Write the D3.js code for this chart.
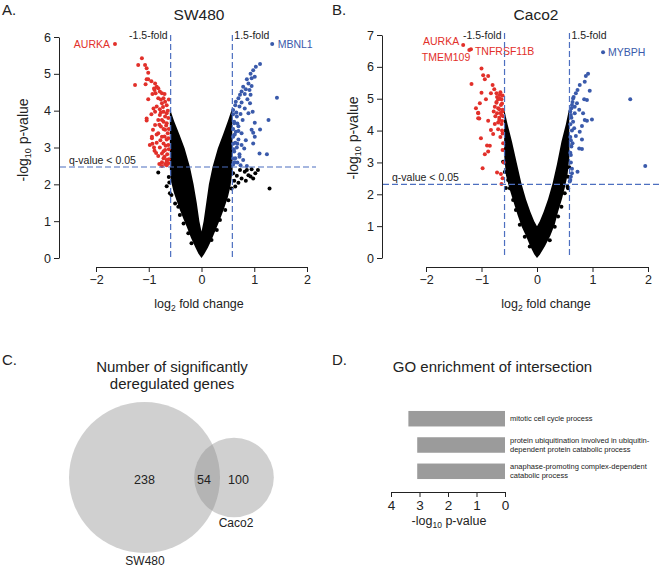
<!DOCTYPE html>
<html>
<head>
<meta charset="utf-8">
<script src="https://cdn.jsdelivr.net/npm/d3@7/dist/d3.min.js"></script>
<style>
  body { margin: 0; background: #fff; }
  svg { display: block; }
</style>
</head>
<body>
<svg id="fig" width="660" height="567"></svg>
<script>
// ---- data ----
// volcano points: [log2 fold change, -log10 p-value]
const swDown = [
  [-1.13,5.42],[-1.20,5.24],[-1.07,5.24],[-1.04,5.15],[-1.01,5.03],[-1.26,4.70],[-1.04,4.85],[-1.01,4.85],
  [-1.06,4.72],[-0.88,4.74],[-0.85,4.65],[-0.82,4.61],[-0.89,4.56],[-0.79,4.52],[-0.75,4.47],[-0.87,4.47],
  [-1.01,4.31],[-0.82,4.34],[-0.72,4.34],[-0.69,4.24],[-0.75,4.20],[-0.66,4.15],[-0.85,4.11],[-0.91,4.06],
  [-0.79,4.04],[-0.72,3.97],[-0.88,3.97],[-0.66,3.93],[-0.79,3.88],[-0.69,3.84],[-1.04,3.73],[-0.82,3.75],
  [-0.72,3.70],[-0.66,3.66],[-0.88,3.61],[-0.77,3.57],[-0.92,3.48],[-0.69,3.48],[-0.82,3.39],[-0.64,3.39],
  [-0.75,3.29],[-0.94,3.25],[-0.66,3.22],[-0.85,3.13],[-0.72,3.11],[-0.63,3.07],[-0.98,3.07],[-0.79,3.00],
  [-0.69,2.93],[-0.89,2.91],[-0.75,2.84],[-0.65,2.82],[-0.82,2.77],[-0.72,2.71],[-0.66,2.66],[-0.75,2.60],
  [-0.69,2.55],[-0.63,2.57],[-0.75,2.50],[-1.04,3.79],[-0.94,3.29],[-0.93,3.10],
  [-0.62,4.30],[-0.64,4.00],[-0.63,3.80],[-0.67,3.60],[-0.62,3.50],[-0.70,3.30],[-0.63,3.25],[-0.68,3.05],
  [-0.62,2.95],[-0.70,2.75],[-0.62,2.68],[-0.66,2.52],[-0.73,4.10],[-0.77,3.95],[-0.75,3.75],[-0.80,3.62],
  [-0.72,3.50],[-0.78,3.20],[-0.85,3.35],[-0.90,3.00],[-0.86,2.85],[-0.80,2.55],[-0.70,4.45],[-0.77,4.30],
  [-0.90,4.60],[-0.95,4.80],[-0.93,4.45],[-0.66,2.62],[-0.72,2.90],[-0.95,3.90]
];
const swUp = [
  [1.11,5.27],[1.03,5.19],[0.98,5.10],[0.93,5.00],[1.01,4.92],[0.86,4.85],[0.95,4.88],[0.89,4.74],
  [0.95,4.67],[0.79,4.65],[0.84,4.58],[0.76,4.52],[0.91,4.56],[0.73,4.43],[0.82,4.45],[0.93,4.43],
  [1.43,4.35],[0.70,4.34],[0.87,4.31],[0.65,4.24],[0.76,4.22],[0.92,4.20],[0.64,4.15],[0.72,4.11],
  [0.82,4.06],[0.97,3.97],[0.89,3.93],[0.60,4.02],[0.74,3.91],[0.67,3.84],[0.78,3.75],[1.27,3.75],
  [1.01,3.67],[0.62,3.66],[0.70,3.58],[1.11,3.49],[0.95,3.48],[0.98,3.40],[0.65,3.43],[0.76,3.39],
  [0.60,3.29],[1.01,3.29],[0.70,3.22],[0.84,3.20],[0.98,3.11],[0.64,3.13],[0.76,3.07],[0.67,3.00],
  [0.81,2.97],[1.10,2.84],[1.24,2.82],[0.62,2.89],[0.72,2.82],[0.64,2.71],[0.79,2.66],[0.68,2.59],
  [0.60,2.54],[0.74,2.52],[0.86,2.50],
  [0.60,3.90],[0.62,3.70],[0.60,3.50],[0.63,3.35],[0.60,3.10],[0.61,2.95],[0.60,2.70],[0.63,2.60],
  [0.66,3.95],[0.68,3.65],[0.70,3.45],[0.68,3.10],[0.72,2.75]
];
const swOther = [
  [0.73,2.39],[0.82,2.34],[0.95,2.41],[0.89,2.25],[0.98,2.16],[0.76,2.16],[0.67,2.23],[0.84,2.10],
  [0.70,2.04],[0.93,2.21],[1.29,1.89],[0.64,1.94],[1.07,2.39],[1.02,2.30],[0.86,2.39],
  [-0.82,2.32],[-0.66,1.95],[-0.60,1.76],[-0.57,1.71],[-0.50,1.48],[-0.44,1.39],[-0.41,1.17],
  [-0.34,0.94],[-0.25,0.67],[-0.19,0.40],[-0.62,2.20],[-0.61,2.05],
  [0.57,1.89],[0.51,1.57],[0.45,1.30],[0.35,1.03],[0.29,0.76],[0.19,0.49],[0.62,2.10],[0.60,2.30]
];
// outline of the dense black cloud
const swCloud = [
  [0,0],[-0.06,0.12],[-0.12,0.3],[-0.2,0.55],[-0.28,0.85],[-0.34,1.05],[-0.41,1.3],[-0.47,1.55],
  [-0.53,1.8],[-0.58,2.1],[-0.6,2.4],[-0.6,4.06],
  [-0.52,3.72],[-0.42,3.36],[-0.32,2.98],[-0.22,2.48],[-0.15,2.0],[-0.09,1.5],[-0.04,1.0],[0,0.72],
  [0.04,1.0],[0.09,1.5],[0.14,2.0],[0.21,2.48],[0.31,2.98],[0.41,3.36],[0.5,3.72],[0.58,4.06],
  [0.59,2.4],[0.55,1.95],[0.5,1.65],[0.43,1.35],[0.36,1.08],[0.28,0.8],[0.2,0.52],[0.12,0.28],[0.05,0.1]
];
const swGenes = [
  { gene: "AURKA", fc: -1.64, p: 5.81, dir: "down" },
  { gene: "MBNL1", fc: 1.34, p: 5.81, dir: "up" }
];

const cacoDown = [
  [-1.00,5.95],[-0.97,5.74],[-0.88,5.71],[-0.94,5.61],[-1.18,5.46],[-0.80,5.43],[-0.77,5.30],[-0.73,5.17],
  [-1.00,5.19],[-0.83,5.17],[-0.67,5.12],[-0.92,4.98],[-0.70,4.98],[-0.64,4.98],[-1.03,4.86],[-0.73,4.87],
  [-0.65,4.80],[-0.76,4.75],[-0.68,4.67],[-0.62,4.65],[-1.06,4.56],[-0.72,4.54],[-0.64,4.49],[-1.04,4.38],
  [-0.88,4.31],[-0.68,4.33],[-0.76,4.21],[-0.64,4.21],[-0.83,4.02],[-0.70,4.04],[-0.62,3.91],[-0.79,3.89],
  [-1.01,3.76],[-0.85,3.52],[-0.88,3.34],[-0.94,3.26],[-0.62,3.39],[-0.98,2.82],[-0.65,2.64],[-0.72,2.68],
  [-0.64,2.32],[-1.10,4.70],[-1.06,4.54],[-1.06,4.39],[-0.90,3.53],
  [-0.62,4.60],[-0.66,4.55],[-0.70,4.70],[-0.63,4.85],[-0.67,5.00],[-0.72,5.05],[-0.68,4.40],[-0.63,4.30],
  [-0.70,4.25],[-0.75,4.45],[-0.78,4.60],[-0.66,5.20],[-0.62,5.10],[-0.73,4.90],[-0.61,4.45],[-0.63,4.00],
  [-0.66,3.80],[-0.61,3.60],[-0.60,3.00],[-0.62,2.50]
];
const cacoUp = [
  [0.92,5.78],[0.88,5.71],[0.77,5.43],[0.86,5.53],[0.95,5.25],[0.73,5.27],[0.70,5.17],[0.85,4.98],
  [0.90,4.96],[1.68,4.98],[0.65,5.01],[0.72,4.86],[0.63,4.80],[0.76,4.65],[0.68,4.54],[0.61,4.49],
  [0.86,4.33],[0.99,4.35],[0.90,4.31],[0.65,4.28],[0.81,4.14],[0.67,4.07],[0.77,3.96],[0.70,3.83],
  [0.61,3.70],[0.81,3.72],[0.64,3.60],[0.76,3.44],[0.81,3.42],[0.61,3.23],[0.73,2.71],[1.95,2.89],
  [0.63,2.66],[0.61,2.55],[0.83,4.54],[0.59,2.40],
  [0.60,4.60],[0.62,4.70],[0.64,4.90],[0.66,5.05],[0.68,4.75],[0.62,4.40],[0.60,4.20],[0.63,4.00],
  [0.60,3.80],[0.62,3.50],[0.60,3.30],[0.61,3.00],[0.63,2.80],[0.60,2.45]
];
const cacoOther = [
  [-0.52,2.45],[-0.49,2.19],[-0.43,1.82],[-0.38,1.51],[-0.31,1.04],[-0.22,0.67],[-0.13,0.36],
  [-0.58,3.39],[-0.61,3.02],[-0.58,2.70],[-0.56,2.20],
  [0.50,2.03],[0.55,2.24],[0.44,1.61],[0.38,1.30],[0.32,0.98],[0.23,0.56],[0.56,2.55],[0.56,2.19],
  [0.58,2.85],[0.57,3.55]
];
const cacoCloud = [
  [0,0],[-0.05,0.12],[-0.12,0.36],[-0.2,0.7],[-0.28,1.0],[-0.35,1.35],[-0.43,1.8],[-0.5,2.2],
  [-0.56,2.6],[-0.59,3.2],[-0.595,4.7],
  [-0.53,4.2],[-0.45,3.65],[-0.36,2.95],[-0.28,2.34],[-0.2,1.85],[-0.12,1.45],[-0.05,1.15],[0,1.0],
  [0.05,1.15],[0.12,1.45],[0.2,1.85],[0.28,2.34],[0.36,2.95],[0.44,3.65],[0.52,4.2],[0.58,4.7],
  [0.585,3.2],[0.55,2.6],[0.5,2.2],[0.45,1.85],[0.38,1.45],[0.32,1.05],[0.24,0.7],[0.14,0.36],[0.05,0.1]
];
const cacoGenes = [
  { gene: "AURKA", fc: -1.33, p: 6.69, dir: "down" },
  { gene: "TNFRSF11B", fc: -1.19, p: 6.55, dir: "down" },
  { gene: "TMEM109", fc: -1.22, p: 6.53, dir: "down" },
  { gene: "MYBPH", fc: 1.19, p: 6.46, dir: "up" }
];

const foldCut = Math.log2(1.5);
const swQcut = 2.47;
const cacoQcut = 2.31;

const xTicks = [-2, -1, 0, 1, 2];

// Venn
const vennSets = ["SW480", "Caco2"];
const vennOnly = [238, 100];
const vennShared = 54;

// GO enrichment
const goTerms = [
  ["mitotic cell cycle process"],
  ["protein ubiquitination involved in ubiquitin-", "dependent protein catabolic process"],
  ["anaphase-promoting complex-dependent", "catabolic process"]
];
const goValues = [3.39, 3.08, 3.08];
const goTicks = [4, 3, 2, 1, 0];

// ---- drawing ----
const FONT = '"Liberation Sans", Arial, Helvetica, sans-serif';
const INK = "#222";
const RED = "#e2302a";
const BLUE = "#3a5aab";
const DASH = "#4d6fc0";
const intFmt = d3.format("d");

const svg = d3.select("#fig").style("font-family", FONT);
svg.append("rect").attr("width", 660).attr("height", 567).attr("fill", "#fff");

function txt(g, x, y, s, size, anchor) {
  return g.append("text").attr("x", x).attr("y", y).attr("font-size", size)
    .attr("fill", INK).attr("text-anchor", anchor || "start").text(s);
}

function volcano(cfg) {
  const g = svg.append("g");
  const x = d3.scaleLinear().domain([-2, 2]).range(cfg.xRange);
  const y = d3.scaleLinear().domain([0, cfg.yMax]).range([258, cfg.yTop]);

  // dense cloud
  g.append("path").datum(cfg.cloud)
    .attr("d", d3.line().x(d => x(d[0])).y(d => y(d[1])).curve(d3.curveLinearClosed))
    .attr("fill", "#000");

  const dots = (data, col) => g.append("g").selectAll("circle").data(data).join("circle")
    .attr("cx", d => x(d[0])).attr("cy", d => y(d[1])).attr("r", 2).attr("fill", col);
  dots(cfg.other, "#000");
  dots(cfg.down, RED);
  dots(cfg.up, BLUE);
  dots(cfg.genes.map(d => [d.fc, d.p]), null)
    .attr("fill", (d, i) => cfg.genes[i].dir === "down" ? RED : BLUE);

  // gene labels
  cfg.genes.forEach((d, i) => {
    const o = cfg.labelOff[i];
    g.append("text").attr("x", x(d.fc) + o[0]).attr("y", y(d.p) + o[1])
      .attr("text-anchor", o[2]).attr("font-size", 10.5)
      .attr("fill", d.dir === "down" ? RED : BLUE).text(d.gene);
  });

  // threshold lines
  [-foldCut, foldCut].forEach(v => {
    g.append("line").attr("x1", x(v)).attr("x2", x(v))
      .attr("y1", y(cfg.yMax) - 2).attr("y2", y(0))
      .attr("stroke", DASH).attr("stroke-width", 1.2).attr("stroke-dasharray", "6,3");
  });
  g.append("line").attr("x1", cfg.yAxisX + 1).attr("x2", cfg.hEnd)
    .attr("y1", y(cfg.qcut)).attr("y2", y(cfg.qcut))
    .attr("stroke", DASH).attr("stroke-width", 1.2).attr("stroke-dasharray", "6,3");

  txt(g, x(-foldCut) - 3, y(cfg.yMax) + cfg.foldDy, "-1.5-fold", 10.5, "end");
  txt(g, x(foldCut) + 2, y(cfg.yMax) + cfg.foldDy, "1.5-fold", 10.5, "start");
  txt(g, cfg.yAxisX + 10, y(cfg.qcut) - 3, "q-value < 0.05", 10.5, "start");

  // axes
  const ya = g.append("g").attr("transform", `translate(${cfg.yAxisX},0)`)
    .call(d3.axisLeft(y).ticks(cfg.yMax).tickFormat(intFmt).tickSize(5).tickSizeOuter(0).tickPadding(3));
  const xa = g.append("g").attr("transform", "translate(0,267)")
    .call(d3.axisBottom(x).tickValues(xTicks).tickFormat(intFmt).tickSize(5).tickSizeOuter(0).tickPadding(3));
  [ya, xa].forEach(a => {
    a.selectAll("text").attr("font-size", 12.5).attr("font-family", FONT).attr("fill", INK);
    a.selectAll("line,path").attr("stroke", INK);
  });

  // axis titles
  const yl = g.append("text").attr("transform", `translate(${cfg.yLab[0]},${cfg.yLab[1]}) rotate(-90)`)
    .attr("text-anchor", "middle").attr("font-size", 14).attr("fill", INK);
  yl.append("tspan").text("-log");
  yl.append("tspan").attr("font-size", 9).attr("dy", 3).text("10");
  yl.append("tspan").attr("dy", -3).text(" p-value");

  const xl = g.append("text").attr("x", cfg.xLab[0]).attr("y", cfg.xLab[1])
    .attr("text-anchor", "middle").attr("font-size", 12.5).attr("fill", INK);
  xl.append("tspan").text("log");
  xl.append("tspan").attr("font-size", 8.5).attr("dy", 3).text("2");
  xl.append("tspan").attr("dy", -3).text(" fold change");

  txt(g, cfg.title[0], 20, cfg.titleText, 15.5, "middle");
  txt(g, cfg.tag[0], 15, cfg.tagText, 15, "start");
}

volcano({
  xRange: [96, 307], yMax: 6, yTop: 37, yAxisX: 59, hEnd: 316, qcut: swQcut,
  cloud: swCloud, other: swOther, down: swDown, up: swUp, genes: swGenes,
  labelOff: [[-5, 4, "end"], [5.5, 4, "start"]],
  foldDy: 2,
  yLab: [28, 140], xLab: [199, 308], title: [199], titleText: "SW480", tag: [2], tagText: "A."
});
volcano({
  xRange: [426, 648], yMax: 7, yTop: 35, yAxisX: 382, hEnd: 660, qcut: cacoQcut,
  cloud: cacoCloud, other: cacoOther, down: cacoDown, up: cacoUp, genes: cacoGenes,
  labelOff: [[-4, 0, "end"], [4, 6, "start"], [1, 11, "end"], [5, 4, "start"]],
  foldDy: 4,
  yLab: [358, 138], xLab: [546, 308], title: [536], titleText: "Caco2", tag: [332], tagText: "B."
});

// ---- C: Venn ----
{
  const g = svg.append("g");
  const r = d3.scaleLinear().domain([0, vennOnly[0] + vennShared]).range([0, 75.5]);
  const totals = [vennOnly[0] + vennShared, vennOnly[1] + vennShared];
  const cx = [144.5, 234], cy = 477.5;
  totals.forEach((t, i) => {
    g.append("circle").attr("cx", cx[i]).attr("cy", cy).attr("r", r(t))
      .attr("fill", "#898989").attr("fill-opacity", 0.4);
  });
  txt(g, cx[0], 483.5, vennOnly[0], 12.5, "middle");
  txt(g, 204, 483.5, vennShared, 12.5, "middle");
  txt(g, 238.5, 483.5, vennOnly[1], 12.5, "middle");
  txt(g, 236, 527, vennSets[1], 12, "middle");
  txt(g, 145, 565, vennSets[0], 12, "middle");
  txt(g, 172, 372, "Number of significantly", 15, "middle");
  txt(g, 172, 389, "deregulated genes", 15, "middle");
  txt(g, 2, 365, "C.", 15, "start");
}

// ---- D: GO bars ----
{
  const g = svg.append("g");
  const x = d3.scaleLinear().domain([0, 4]).range([505, 391]);
  const y = d3.scaleBand().domain(d3.range(goTerms.length)).range([405.7, 484.3])
    .paddingInner(0.41).paddingOuter(0.2);
  g.selectAll("rect").data(goValues).join("rect")
    .attr("x", d => x(d)).attr("width", d => x(0) - x(d))
    .attr("y", (d, i) => y(i)).attr("height", y.bandwidth())
    .attr("fill", "#9b9b9b");
  goTerms.forEach((lines, i) => {
    const c = y(i) + y.bandwidth() / 2;
    lines.forEach((s, j) => {
      txt(g, 510, c + 2.7 + (j - (lines.length - 1) / 2) * 9, s, 7.5, "start");
    });
  });
  const ax = g.append("g").attr("transform", "translate(0,492)")
    .call(d3.axisBottom(x).tickValues(goTicks).tickFormat(intFmt).tickSize(5).tickSizeOuter(0).tickPadding(3));
  ax.selectAll("text").attr("font-size", 13.5).attr("font-family", FONT).attr("fill", INK);
  ax.selectAll("line,path").attr("stroke", INK);

  const xl = g.append("text").attr("x", 449).attr("y", 525)
    .attr("text-anchor", "middle").attr("font-size", 12.5).attr("fill", INK);
  xl.append("tspan").text("-log");
  xl.append("tspan").attr("font-size", 8.5).attr("dy", 3).text("10");
  xl.append("tspan").attr("dy", -3).text(" p-value");

  txt(g, 492.5, 372, "GO enrichment of intersection", 15, "middle");
  txt(g, 332, 365, "D.", 15, "start");
}
</script>
</body>
</html>
